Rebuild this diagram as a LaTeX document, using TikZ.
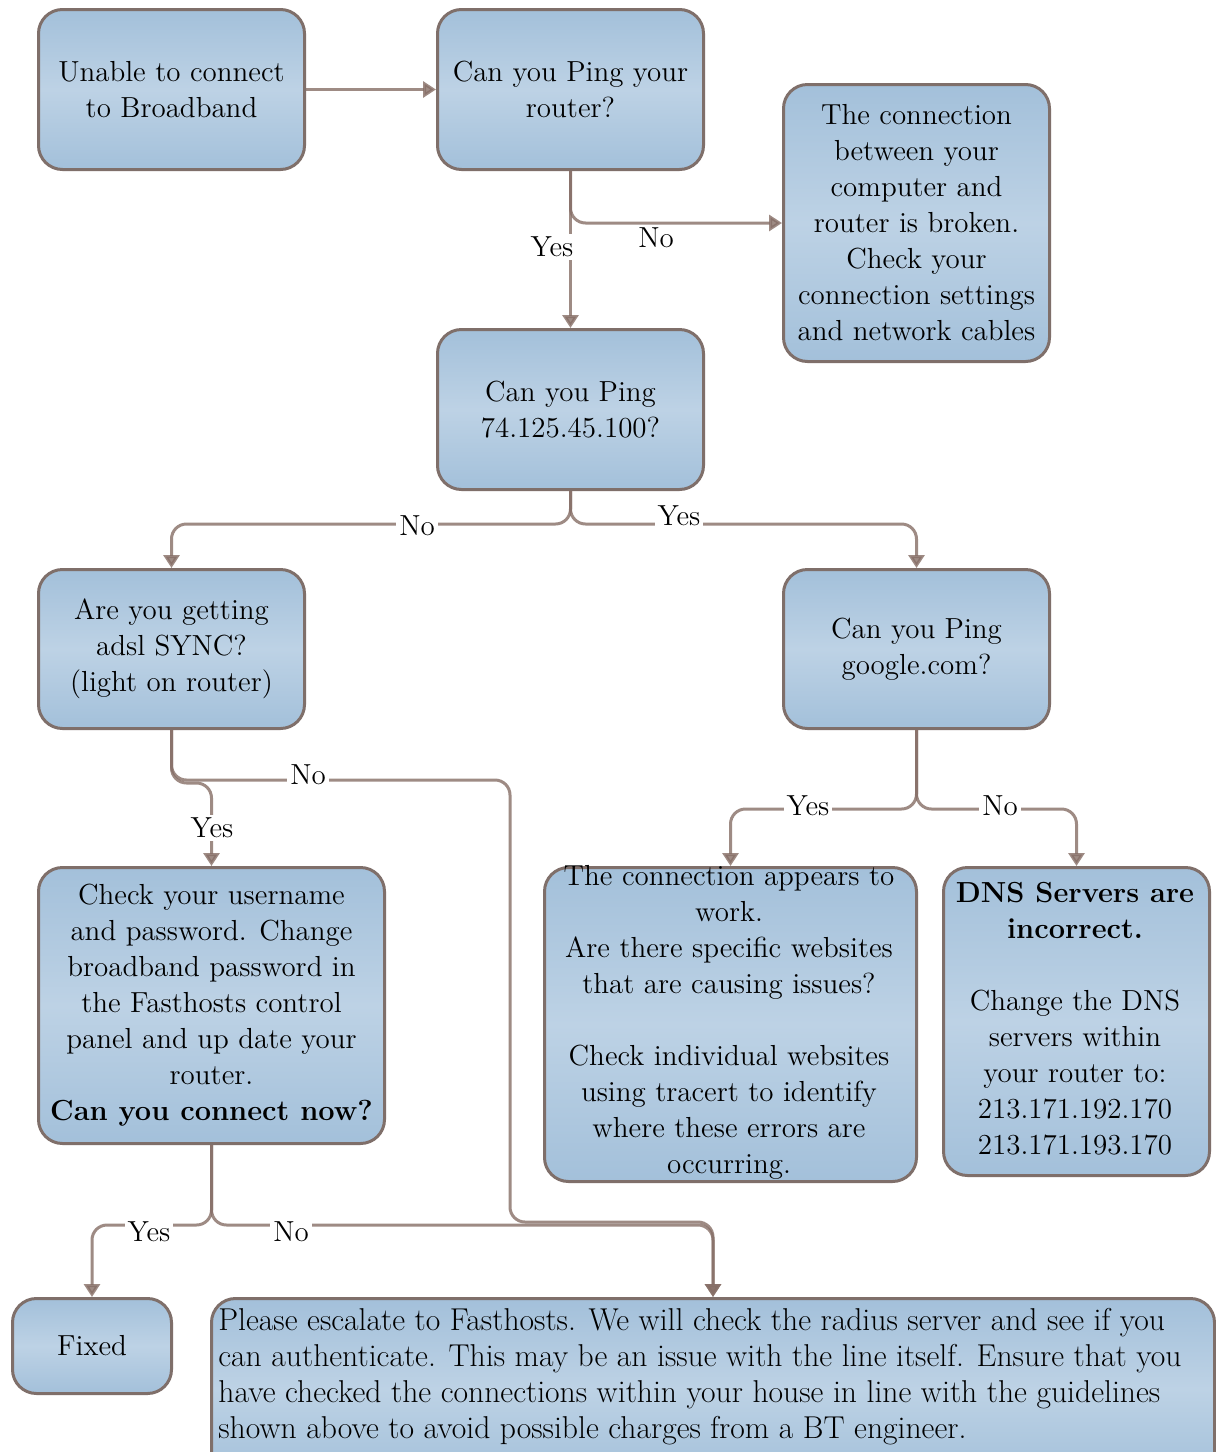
\documentclass[tikz,border=0pt]{standalone}
\usepackage{graphicx}
\usetikzlibrary{arrows.meta}
\definecolor{boxtop}{HTML}{A3C0DA}
\definecolor{boxmid}{HTML}{BDD2E5}
\definecolor{boxedge}{HTML}{7F6F6A}
\definecolor{connc}{HTML}{866E66}
\begin{document}
\begin{tikzpicture}[x=0.5pt,y=-0.5pt,
  box/.style={draw=boxedge, line width=1.5pt, rounded corners=12pt,
    top color=boxtop, bottom color=boxtop, middle color=boxmid,
    inner sep=0pt, anchor=north west},
  txt/.style={align=center, font=\fontsize{14.5}{18}\selectfont, inner sep=0pt},
  link/.style={draw=connc, opacity=0.8, line width=1.5pt, rounded corners=7.5pt,
    -{Triangle[length=6.5pt,width=8pt]}},
  lab/.style={fill=white, inner sep=1.5pt, font=\fontsize{14.5}{18}\selectfont},
]
\useasboundingbox (0,0) rectangle (1216,1452);
\fill[white] (0,0) rectangle (1216,1452);

% boxes
\node[box, minimum width=133pt, minimum height=80pt] (A) at (37,8) {};
\node[box, minimum width=133pt, minimum height=80pt] (B) at (436,8) {};
\node[box, minimum width=133pt, minimum height=138.5pt] (C) at (782,83) {};
\node[box, minimum width=133pt, minimum height=80pt] (D) at (436,328) {};
\node[box, minimum width=133pt, minimum height=79.5pt] (E) at (37,568) {};
\node[box, minimum width=133pt, minimum height=79.5pt] (F) at (782,568) {};
\node[box, minimum width=173pt, minimum height=138pt] (G) at (37,866) {};
\node[box, minimum width=186pt, minimum height=157pt] (H) at (543,866) {};
\node[box, minimum width=133pt, minimum height=154pt] (I) at (942,866) {};
\node[box, minimum width=79.5pt, minimum height=47.5pt] (J) at (11,1297) {};
\node[box, minimum width=501.5pt, minimum height=90pt] (K) at (210,1297) {};

% texts
\node[txt] (At) at (A.center) {Unable to connect\\to Broadband};
\node[txt] (Bt) at (B.center) {Can you Ping your\\router?};
\node[txt] (Ct) at (C.center) {The connection\\between your\\computer and\\router is broken.\\Check your\\connection settings\\and network cables};
\node[txt] (Dt) at (D.center) {Can you Ping\\74.125.45.100?};
\node[txt] (Et) at (E.center) {Are you getting\\adsl SYNC?\\(light on router)};
\node[txt] (Ft) at (F.center) {Can you Ping\\google.com?};
\node[txt] (Gt) at (G.center) {Check your username\\and password. Change\\broadband password in\\the Fasthosts control\\panel and up date your\\router.\\\textbf{Can you connect now?}};
\node[txt] (Ht) at (729,1022) {The connection appears to\\work.\\Are there specific websites\\that are causing issues?\\[18pt]Check individual websites\\using tracert to identify\\where these errors are\\occurring.};
\node[txt] (It) at (1075,1019) {\textbf{DNS Servers are}\\\textbf{incorrect.}\\[18pt]Change the DNS\\servers within\\your router to:\\213.171.192.170\\213.171.193.170};
\node[txt] (Jt) at (J.center) {Fixed};
\node[txt, anchor=west, align=left] (Kt) at (218,1377) {\parbox{560pt}{\fontsize{15.8}{18}\selectfont
Please escalate to Fasthosts. We will check the radius server and see if you\\
can authenticate. This may be an issue with the line itself. Ensure that you\\
have checked the connections within your house in line with the guidelines\\
shown above to avoid possible charges from a BT engineer.}};

% connectors
\draw[link] (A.east) -- (B.west);
\draw[link] (B.south) -- (D.north);
\draw[link] (B.south) |- (C.west);
\draw[link] (D.south) -- ++(0,33) -| (E.north);
\draw[link] (D.south) -- ++(0,33) -| (F.north);
\draw[link] (E.south) -- ++(0,53) -| (G.north);
\draw[link] (E.south) |- (510,780) -- (510,1222) -| (K.north);
\draw[link] (F.south) -- ++(0,79) -| (H.north);
\draw[link] (F.south) -- ++(0,79) -| (I.north);
\draw[link] (G.south) -- ++(0,80) -| (J.north);
\draw[link] (G.south) -- ++(0,80) -| (K.north);

% labels
\node[lab] (l1) at (552,247) {Yes};
\node[lab] (l2) at (656,238) {No};
\node[lab] (l3) at (417,526) {No};
\node[lab] (l4) at (679,516) {Yes};
\node[lab] (l5) at (212,828) {Yes};
\node[lab] (l6) at (308,775) {No};
\node[lab] (l7) at (808,806) {Yes};
\node[lab] (l8) at (1000,806) {No};
\node[lab] (l9) at (149,1232) {Yes};
\node[lab] (l10) at (291,1232) {No};
\end{tikzpicture}
\end{document}
